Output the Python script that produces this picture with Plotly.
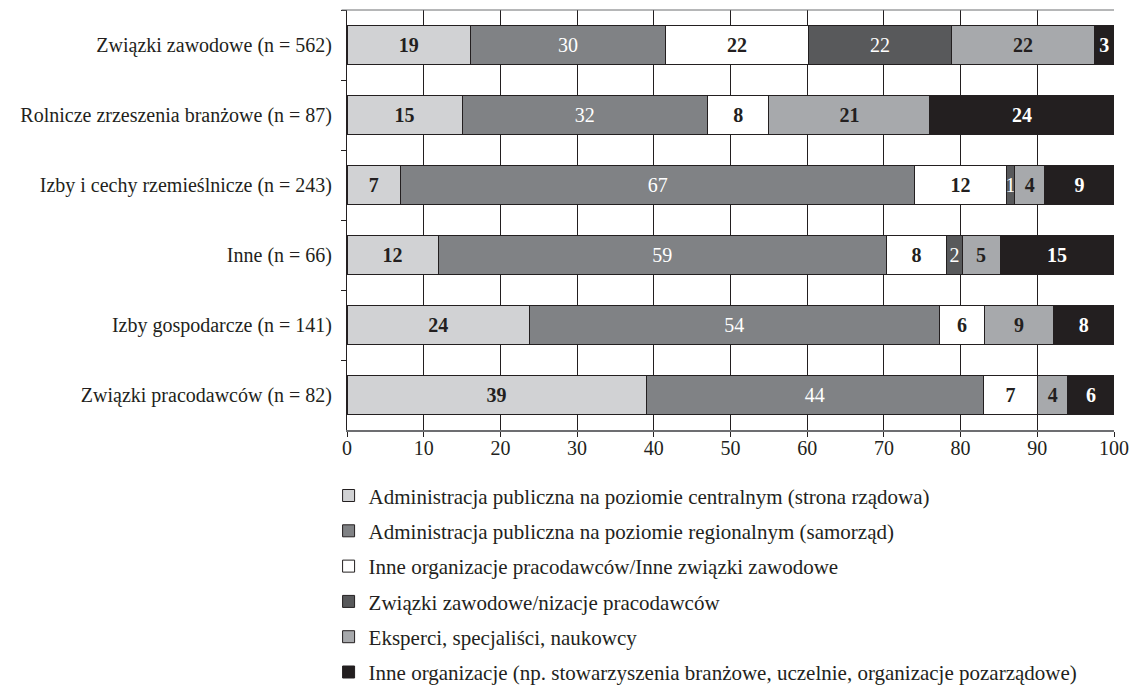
import plotly.graph_objects as go

categories = [
    "Związki zawodowe (n = 562)",
    "Rolnicze zrzeszenia branżowe (n = 87)",
    "Izby i cechy rzemieślnicze (n = 243)",
    "Inne (n = 66)",
    "Izby gospodarcze (n = 141)",
    "Związki pracodawców (n = 82)",
]

series_names = [
    "Administracja publiczna na poziomie centralnym (strona rządowa)",
    "Administracja publiczna na poziomie regionalnym (samorząd)",
    "Inne organizacje pracodawców/Inne związki zawodowe",
    "Związki zawodowe/nizacje pracodawców",
    "Eksperci, specjaliści, naukowcy",
    "Inne organizacje (np. stowarzyszenia branżowe, uczelnie, organizacje pozarządowe)",
]

central = [19, 15, 7, 12, 24, 39]
regional = [30, 32, 67, 59, 54, 44]
other_orgs = [22, 8, 12, 8, 6, 7]
unions = [22, None, 1, 2, None, None]
experts = [22, 21, 4, 5, 9, 4]
other = [3, 24, 9, 15, 8, 6]

x_ticks = [0, 10, 20, 30, 40, 50, 60, 70, 80, 90, 100]

series_values = [central, regional, other_orgs, unions, experts, other]
colors = ["#d1d2d4", "#808285", "#ffffff", "#58595b", "#a7a9ac", "#231f20"]
text_colors = ["#231f20", "#ffffff", "#231f20", "#ffffff", "#231f20", "#ffffff"]
bold = [True, False, True, False, True, True]

FONT = "Liberation Serif"

fig = go.Figure()
for name, vals, col, tcol, b in zip(series_names, series_values, colors, text_colors, bold):
    fig.add_trace(go.Bar(
        y=categories,
        x=vals,
        name=name,
        orientation="h",
        marker=dict(color=col, line=dict(color="#231f20", width=1)),
        text=[("" if v is None else str(v)) for v in vals],
        texttemplate="<b>%{text}</b>" if b else "%{text}",
        textposition="inside",
        insidetextanchor="middle",
        textangle=0,
        insidetextfont=dict(family=FONT, size=20, color=tcol),
        legendgroup=name,
        hoverinfo="skip",
    ))

fig.update_layout(
    barmode="stack",
    barnorm="percent",
    bargap=0.45,
    width=1143,
    height=689,
    margin=dict(l=339, r=37, t=2, b=267, autoexpand=False),
    paper_bgcolor="white",
    plot_bgcolor="white",
    font=dict(family=FONT, size=20, color="#231f20"),
    uniformtext=dict(minsize=20, mode="show"),
    showlegend=True,
    legend=dict(
        orientation="v",
        x=-0.024,
        xanchor="left",
        y=-0.108,
        yanchor="top",
        traceorder="grouped",
        tracegroupgap=5,
        font=dict(family=FONT, size=21, color="#231f20"),
        bgcolor="rgba(0,0,0,0)",
    ),
    xaxis=dict(
        range=[0, 100],
        tickvals=x_ticks,
        ticktext=[str(t) for t in x_ticks],
        showgrid=True,
        gridcolor="#231f20",
        gridwidth=1,
        showline=True,
        linecolor="#6d6e71",
        linewidth=2,
        ticks="outside",
        ticklen=5,
        tickcolor="#231f20",
        ticklabelstandoff=-6,
        zeroline=False,
        automargin=False,
        tickfont=dict(family=FONT, size=20, color="#231f20"),
        fixedrange=True,
    ),
    yaxis=dict(
        categoryorder="array",
        categoryarray=categories,
        autorange="reversed",
        showline=True,
        linecolor="#231f20",
        linewidth=1,
        ticks="outside",
        tickson="boundaries",
        ticklen=5,
        tickcolor="#231f20",
        showgrid=False,
        ticksuffix="  ",
        automargin=False,
        tickfont=dict(family=FONT, size=20, color="#231f20"),
        fixedrange=True,
    ),
)

fig.add_shape(type="line", xref="paper", yref="paper", x0=-0.007, x1=1, y0=1, y1=1,
              line=dict(color="#6d6e71", width=1))

fig.write_html("out.html")
